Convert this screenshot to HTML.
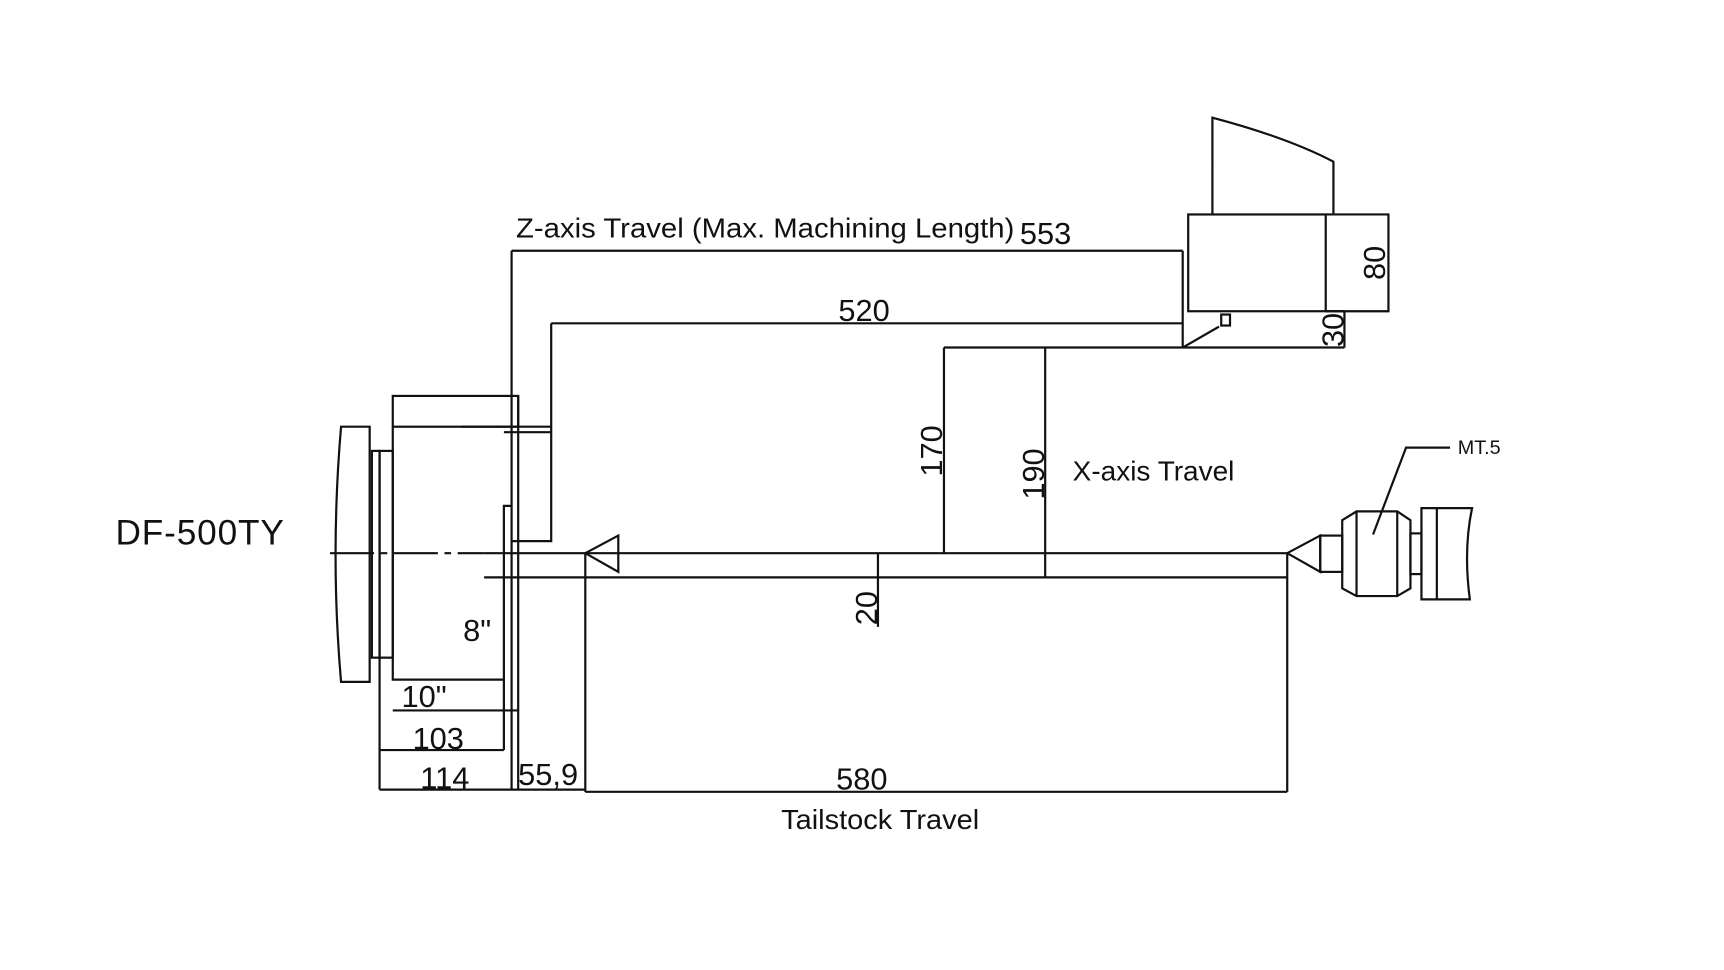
<!DOCTYPE html>
<html><head><meta charset="utf-8"><style>html,body{margin:0;padding:0;background:#fff}svg{display:block}</style></head>
<body>
<svg width="1724" height="970" viewBox="0 0 1567 882" preserveAspectRatio="none" xmlns="http://www.w3.org/2000/svg">
<rect width="1567" height="882" fill="#fff"/>
<g fill="none" stroke="#111" stroke-width="2">
<path d="M310,388 L336,388 L336,620 L310,620 Q300,505 310,388 Z"/>
<rect x="338" y="410" width="7" height="188"/>
<rect x="345" y="410" width="12" height="188"/>
<rect x="357" y="360" width="114" height="28"/>
<path d="M357,388 L357,618 L458,618 L458,460 L465,460"/>
<line x1="420" y1="388" x2="501" y2="388"/>
<line x1="458" y1="393" x2="501" y2="393"/>
<line x1="465" y1="228" x2="465" y2="718"/>
<line x1="471" y1="360" x2="471" y2="718"/>
<path d="M465,492 L501,492 L501,294"/>
<line x1="300" y1="503" x2="440" y2="503" stroke-dasharray="40,6,6,6"/>
<line x1="440" y1="503" x2="1170" y2="503"/>
<line x1="440" y1="525" x2="1170" y2="525"/>
<path d="M532,503 L562,487 L562,520 Z"/>
<line x1="532" y1="503" x2="532" y2="720"/>
<line x1="357" y1="646" x2="471" y2="646"/>
<line x1="345" y1="682" x2="458" y2="682"/>
<line x1="345" y1="718" x2="532" y2="718"/>
<line x1="532" y1="720" x2="1170" y2="720"/>
<line x1="345" y1="598" x2="345" y2="718"/>
<line x1="458" y1="618" x2="458" y2="682"/>
<line x1="1170" y1="503" x2="1170" y2="720"/>
<line x1="798" y1="503" x2="798" y2="570"/>
<line x1="465" y1="228" x2="1075" y2="228"/>
<line x1="501" y1="294" x2="1075" y2="294"/>
<line x1="1075" y1="228" x2="1075" y2="316"/>
<line x1="858" y1="316" x2="1222" y2="316"/>
<line x1="858" y1="316" x2="858" y2="503"/>
<line x1="950" y1="316" x2="950" y2="525"/>
<rect x="1080" y="195" width="125" height="88"/>
<path d="M1205,195 L1262,195 L1262,283 L1205,283"/>
<path d="M1102,195 L1102,107 Q1170,125 1212,147 L1212,195"/>
<line x1="1205" y1="283" x2="1222" y2="283"/>
<line x1="1222" y1="283" x2="1222" y2="316"/>
<line x1="1075" y1="316" x2="1108" y2="297"/>
<rect x="1110" y="286" width="8" height="10"/>
<path d="M1170,503 L1200,487 L1200,520 Z"/>
<rect x="1200" y="487" width="20" height="33"/>
<path d="M1220,473 L1233,465 L1270,465 L1282,473 L1282,535 L1270,542 L1233,542 L1220,535 Z"/>
<line x1="1233" y1="465" x2="1233" y2="542"/>
<line x1="1270" y1="465" x2="1270" y2="542"/>
<rect x="1282" y="485" width="10" height="37"/>
<path d="M1292,462 L1338,462 Q1330,500 1336,545 L1292,545 Z"/>
<line x1="1306" y1="462" x2="1306" y2="545"/>
<path d="M1248,486 L1278,407 L1318,407"/>
</g>
<g font-family="Liberation Sans, sans-serif" fill="#111">
<text x="105" y="495" font-size="32" textLength="153">DF-500TY</text>
<text x="469" y="216" font-size="25" textLength="453" lengthAdjust="spacingAndGlyphs">Z-axis Travel (Max. Machining Length)</text>
<text x="927" y="222" font-size="28">553</text>
<text x="762" y="292" font-size="28">520</text>
<text x="975" y="437" font-size="25" textLength="147" lengthAdjust="spacingAndGlyphs">X-axis Travel</text>
<text x="421" y="583" font-size="28">8"</text>
<text x="365" y="643" font-size="28">10"</text>
<text x="375" y="681" font-size="28">103</text>
<text x="382" y="717" font-size="28">114</text>
<text x="471" y="714" font-size="28">55,9</text>
<text x="760" y="718" font-size="28">580</text>
<text x="710" y="754" font-size="25" textLength="180" lengthAdjust="spacingAndGlyphs">Tailstock Travel</text>
<text x="1325" y="413" font-size="18">MT.5</text>
<text transform="translate(856,410) rotate(-90)" text-anchor="middle" font-size="28">170</text>
<text transform="translate(949,431) rotate(-90)" text-anchor="middle" font-size="28">190</text>
<text transform="translate(797,553) rotate(-90)" text-anchor="middle" font-size="28">20</text>
<text transform="translate(1259,239) rotate(-90)" text-anchor="middle" font-size="28">80</text>
<text transform="translate(1221,300) rotate(-90)" text-anchor="middle" font-size="28">30</text>
</g>
</svg>
</body></html>
